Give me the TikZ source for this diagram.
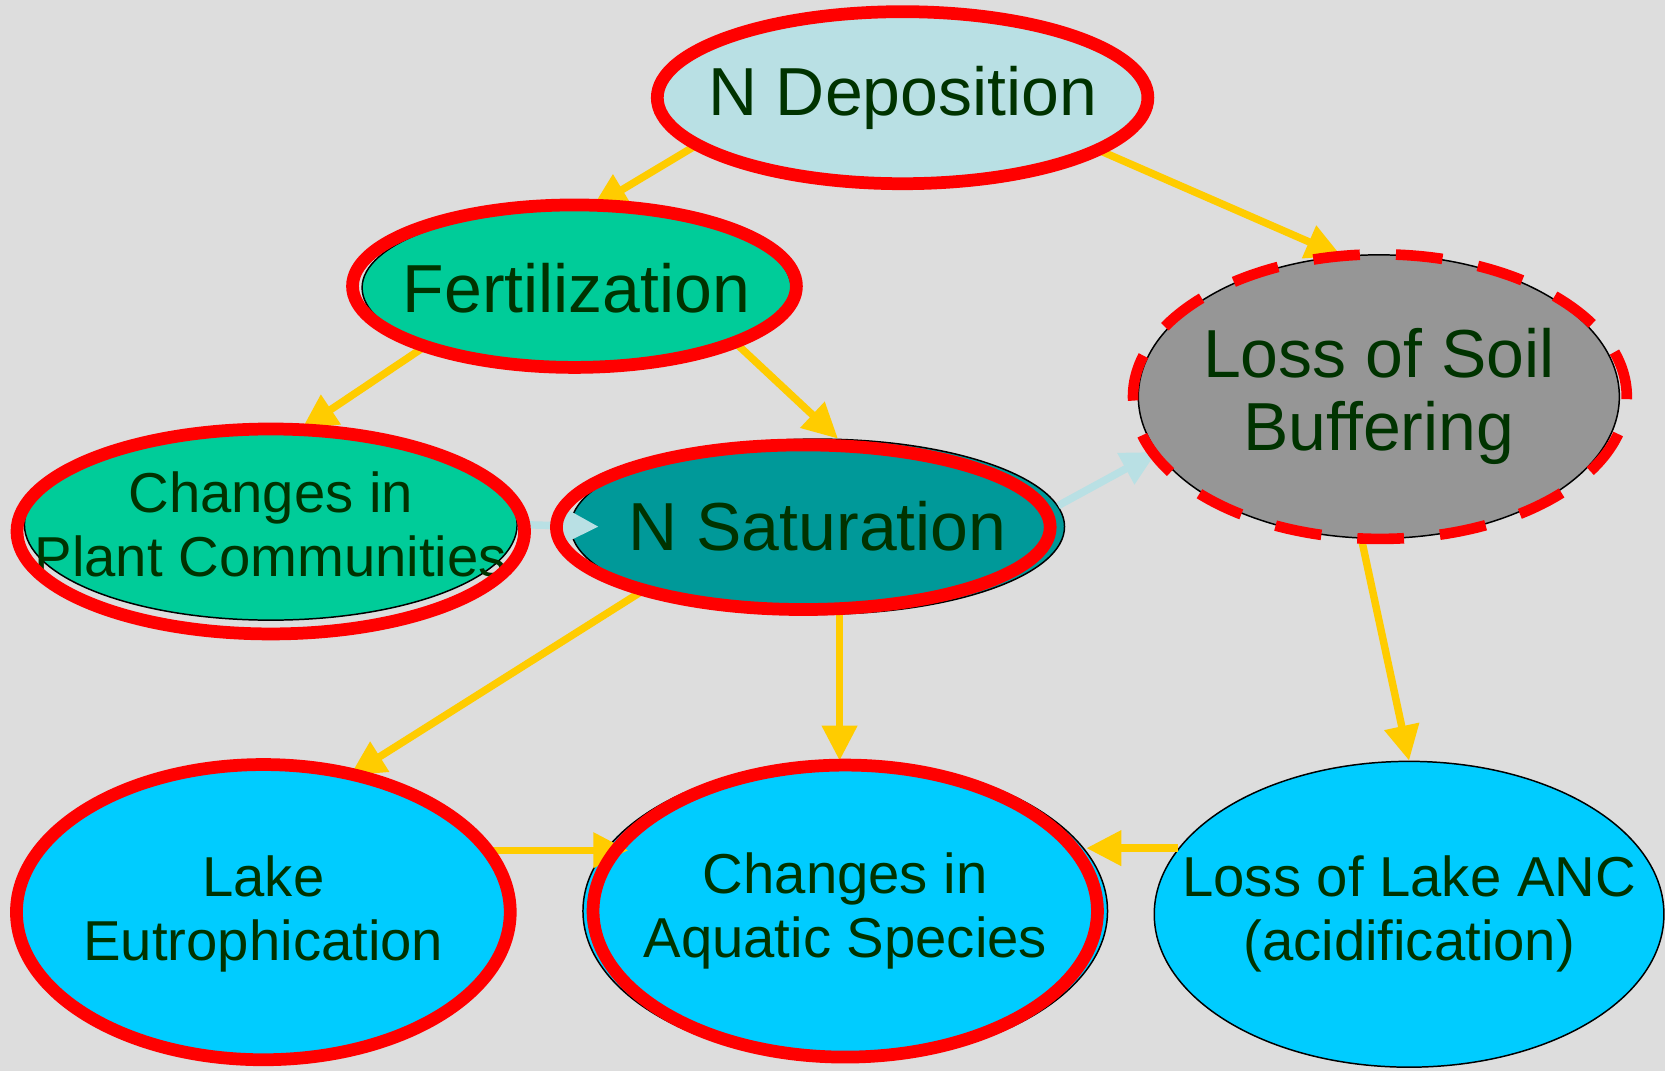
\documentclass[tikz,border=0pt]{standalone}
\usepackage{fontspec}
\setmainfont{Liberation Sans}
\usetikzlibrary{shapes.geometric,arrows.meta}

\definecolor{bgcol}{HTML}{DDDDDD}
\definecolor{txtcol}{HTML}{003300}
\definecolor{paleblue}{HTML}{B9E0E4}
\definecolor{mint}{HTML}{00CC99}
\definecolor{deepteal}{HTML}{009999}
\definecolor{soilgray}{HTML}{969696}
\definecolor{lakeblue}{HTML}{00CCFF}
\definecolor{flowyel}{HTML}{FFCC00}

\begin{document}
\begin{tikzpicture}[x=1pt, y=-1pt]
	\tikzstyle{effect} = [ellipse, inner xsep=-150pt, inner ysep=-60pt, draw=black, line width=1.4pt, text=txtcol, align=center]
	\tikzstyle{big}    = [font=\fontsize{64}{69}\selectfont]
	\tikzstyle{small}  = [font=\fontsize{53}{60}\selectfont]
	\tikzstyle{ring}   = [draw=red, line width=12pt]
	\tikzstyle{flow}   = [draw=flowyel, line width=7pt, -{Triangle[length=33pt, width=32pt]}]
	\tikzstyle{feed}   = [flow, draw=paleblue]

%	\draw[step=100, gray!50] (0,0) grid (1568,1009);
	\fill[bgcol] (0,0) rectangle (1568,1009);

	\node[effect, big, fill=paleblue, minimum width=463pt, minimum height=163pt] (ndep) at (850,92) {N Deposition};
	\node[effect, big, fill=mint, minimum width=404pt, minimum height=150pt] (fert) at (543,271) {Fertilization};
	\node[effect, big, fill=soilgray, minimum width=453pt, minimum height=267pt] (soil) at (1298.5,373.5) {Loss of Soil\\Buffering};
	\node[effect, small, fill=mint, minimum width=464pt, minimum height=180pt] (plants) at (255,494) {Changes in\\Plant Communities};
	\node[effect, big, fill=deepteal, minimum width=465pt, minimum height=165pt] (nsat) at (770,496) {N Saturation};
	\node[effect, small, fill=lakeblue, minimum width=465pt, minimum height=278pt] (eutro) at (248,861) {Lake\\Eutrophication};
	\node[effect, small, fill=lakeblue, minimum width=494pt, minimum height=282pt] (aquatic) at (796,858) {Changes in\\Aquatic Species};
	\node[effect, small, fill=lakeblue, minimum width=480pt, minimum height=288pt] (anc) at (1327,861) {Loss of Lake ANC\\(acidification)};

	\foreach \from/\to in {ndep.193/fert.79, ndep.345/soil.105, fert.201/plants.72, fert.341/nsat.77, nsat.200/eutro.58, soil.263/anc.90}
		\draw[flow] (\from) -- (\to);

	\draw[flow] (nsat.284) -- (nsat.284 |- aquatic.92);
	\draw[flow, shorten >=-20pt] (eutro.16) -- (eutro.16 -| aquatic.165);
	\draw[flow] (anc.164) -- (anc.164 -| aquatic.14);

	\draw[feed] (plants.east) -- ([xshift=27pt]nsat.west);
	\draw[feed] (nsat.5) -- (soil.194);

	\foreach \n/\dx/\dy/\rx/\ry in {ndep/0/0/231/81, fert/-2/-1.5/209/76.5, plants/0/6.5/239/96.5, nsat/-13.5/0.5/232.5/77.5, eutro/0/-2/232.5/139, aquatic/0/0/237.5/137.5}
		\draw[ring] ([shift={(\dx,\dy)}]\n.center) ellipse [x radius=\rx pt, y radius=\ry pt];

	\draw[ring, line width=10pt, dash pattern=on 44pt off 34pt] ([xshift=1pt]soil.center) ellipse [x radius=232.5pt, y radius=134pt];
\end{tikzpicture}
\end{document}
